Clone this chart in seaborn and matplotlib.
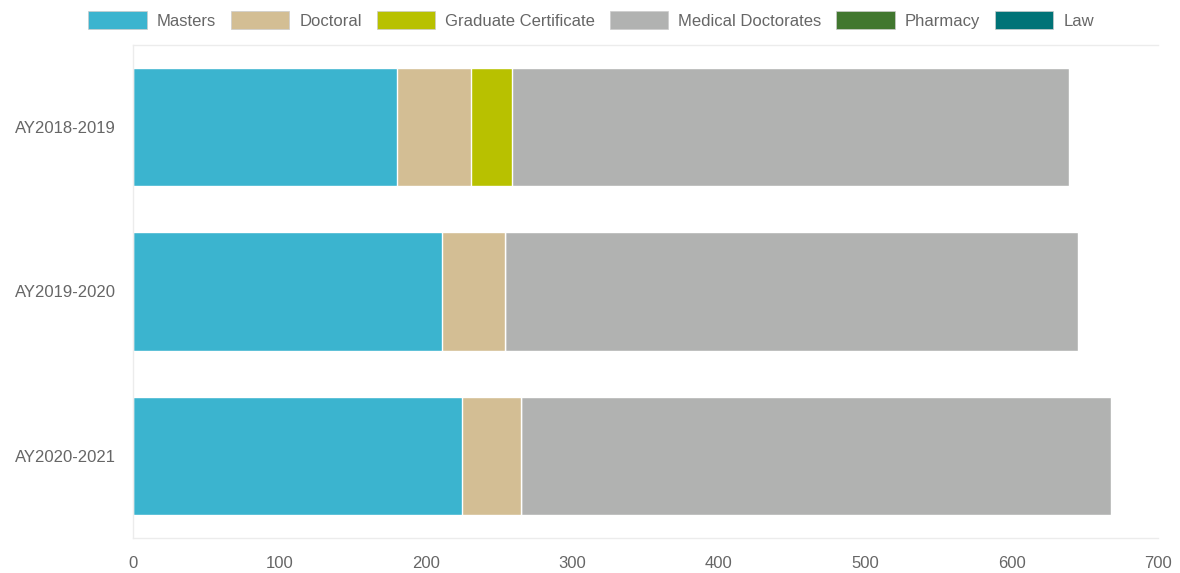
import numpy as np
import pandas as pd
import matplotlib
matplotlib.use("Agg")
import matplotlib.pyplot as plt
from matplotlib.patches import Patch
import seaborn as sns

# ---- data ----
years = ["AY2018-2019", "AY2019-2020", "AY2020-2021"]
series_names = ["Masters", "Doctoral", "Graduate Certificate",
                "Medical Doctorates", "Pharmacy", "Law"]
masters = [180, 211, 225]
doctoral = [51, 43, 40]
grad_cert = [28, 0, 0]
medical = [380, 391, 403]
pharmacy = [0, 0, 0]
law = [0, 0, 0]
x_ticks = [0, 100, 200, 300, 400, 500, 600, 700]

colors = ["#3bb4cf", "#d3be94", "#b8c100", "#b1b2b1", "#41772f", "#007377"]

values = [masters, doctoral, grad_cert, medical, pharmacy, law]
df = pd.DataFrame({name: vals for name, vals in zip(series_names, values)}, index=years)
cum = df.cumsum(axis=1)

sns.set_theme(style="white")
plt.rcParams["font.family"] = ["Liberation Sans", "DejaVu Sans"]

fig = plt.figure(figsize=(11.8, 5.73), dpi=100)
ax = fig.add_axes([0.1127, 0.0611, 0.8687, 0.8604])

# draw stacked bars by layering cumulative totals (largest first)
for name, color in reversed(list(zip(series_names, colors))):
    if df[name].sum() == 0:
        continue
    plot_df = pd.DataFrame({"year": years, "value": cum[name].values})
    sns.barplot(data=plot_df, x="value", y="year", orient="h", color=color,
                width=0.72, edgecolor="white", linewidth=1, ax=ax,
                saturation=1, errorbar=None)

ax.set_xlim(0, 700)
ax.set_ylim(2.5, -0.5)
ax.set_xticks(x_ticks)
ax.set_xticklabels([str(t) for t in x_ticks])
ax.set_xlabel("")
ax.set_ylabel("")
ax.tick_params(axis="both", length=0, labelsize=12, colors="#666666")
ax.tick_params(axis="x", pad=13)
ax.tick_params(axis="y", pad=12)
ax.grid(False)

for side in ["top", "bottom", "left"]:
    ax.spines[side].set_visible(True)
    ax.spines[side].set_color("#ececec")
    ax.spines[side].set_linewidth(1)
ax.spines["right"].set_visible(False)

handles = [Patch(facecolor=c, edgecolor="#cccccc", linewidth=0.5, label=n)
           for n, c in zip(series_names, colors)]
fig.legend(handles=handles, loc="center", bbox_to_anchor=(0.501, 0.965),
           ncol=6, frameon=False, fontsize=12, handlelength=3.5,
           handleheight=1.2, handletextpad=0.6, columnspacing=0.9,
           labelcolor="#666666")

fig.savefig("out.png", dpi=100)
